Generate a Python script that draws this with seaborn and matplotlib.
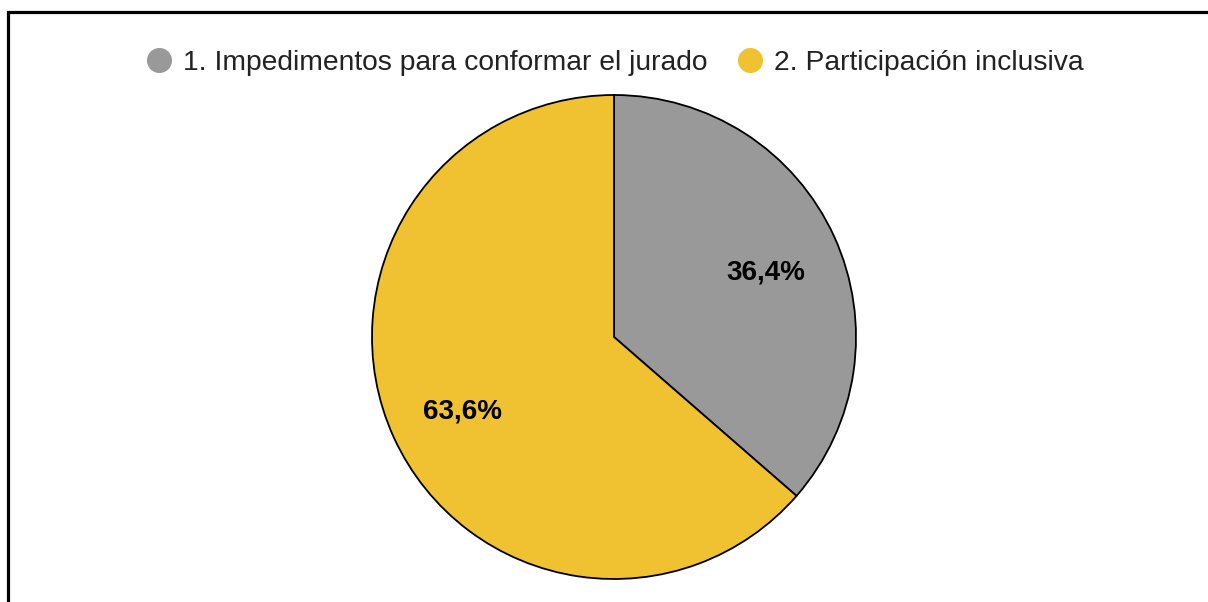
import matplotlib
matplotlib.use("Agg")
import matplotlib.pyplot as plt
import seaborn as sns
import numpy as np
from matplotlib.lines import Line2D
from matplotlib.patches import Rectangle

categories = ["1. Impedimentos para conformar el jurado", "2. Participación inclusiva"]
values = [36.4, 63.6]
labels = ["36,4%", "63,6%"]
colors = ["#999999", "#F0C232"]

sns.set_theme(style="white")
plt.rcParams['font.family'] = ['Liberation Sans', 'DejaVu Sans']

W, H = 1208, 602
fig = plt.figure(figsize=(W / 100, H / 100), dpi=100)
fig.patch.set_facecolor("white")

cx, cy, r = 614, 337, 242
ax = fig.add_axes([(cx - r) / W, (H - cy - r) / H, 2 * r / W, 2 * r / H])
wedges, _ = ax.pie(values, colors=colors, startangle=90, counterclock=False,
                   radius=1, wedgeprops=dict(edgecolor="black", linewidth=1.3),
                   frame=False)
ax.set_xlim(-1, 1)
ax.set_ylim(-1, 1)
ax.set_aspect("equal")

start = 90.0
total = sum(values)
for v, lab in zip(values, labels):
    span = 360 * v / total
    mid = np.deg2rad(start - span / 2)
    ax.text(0.69 * np.cos(mid), 0.69 * np.sin(mid) - 0.02, lab, ha="center", va="center",
            fontsize=20, fontweight="bold", color="black")
    start -= span

handles = [Line2D([0], [0], marker="o", linestyle="none", markersize=17,
                  markerfacecolor=c, markeredgecolor=c) for c in colors]
fig.legend(handles, categories, loc="center", bbox_to_anchor=(614 / W, 1 - 62.5 / H),
           ncol=2, frameon=False, fontsize=20.3, handletextpad=0.35,
           columnspacing=1.0, handlelength=1.0, labelcolor="#222222")

rect = Rectangle((8.0 / W, -0.1), 1.2, (H - 12.0) / H + 0.1, transform=fig.transFigure,
                 fill=False, edgecolor="black", linewidth=2.3)
fig.add_artist(rect)

fig.savefig("out.png", dpi=100, facecolor="white")
